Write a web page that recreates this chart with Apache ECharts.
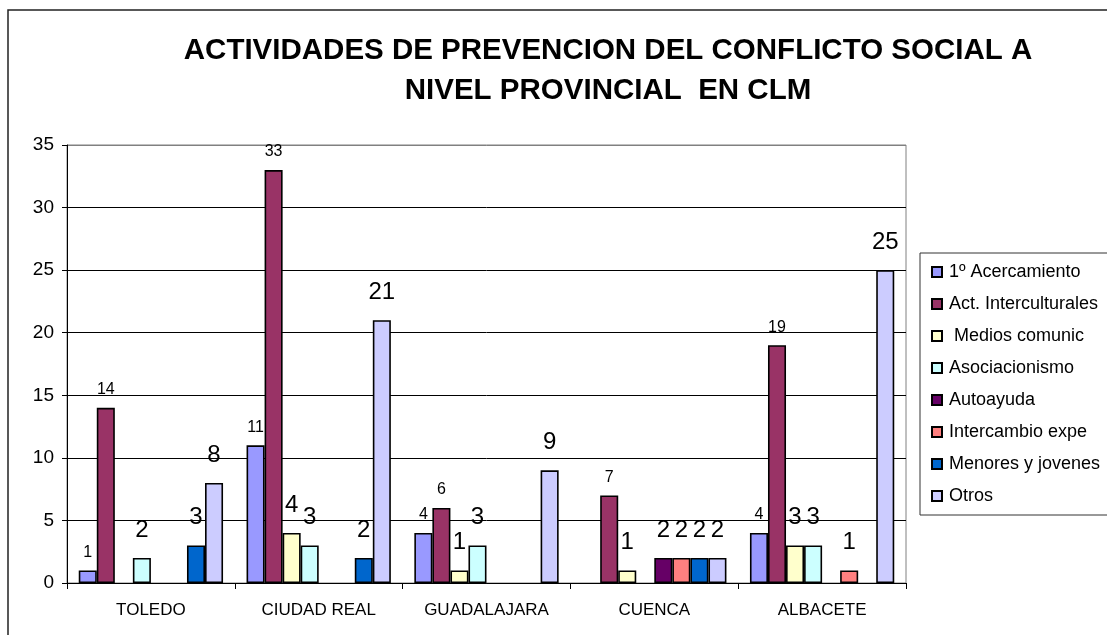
<!DOCTYPE html>
<html>
<head>
<meta charset="utf-8">
<title>Actividades de prevencion</title>
<script src="https://cdn.jsdelivr.net/npm/echarts@6/dist/echarts.min.js"></script>
<style>
  html, body { margin: 0; padding: 0; background: #fff; }
  #chart { width: 1107px; height: 635px; }
</style>
</head>
<body>
<div id="chart"></div>
<script>
// provincias
const provincias = ['TOLEDO', 'CIUDAD REAL', 'GUADALAJARA', 'CUENCA', 'ALBACETE'];

// una lista por actividad (null = sin barra)
const acercamiento   = [1, 11, 4, null, 4];
const interculturales = [14, 33, 6, 7, 19];
const mediosComunic  = [null, 4, 1, 1, 3];
const asociacionismo = [2, 3, 3, null, 3];
const autoayuda      = [null, null, null, 2, null];
const intercambio    = [null, null, null, 2, 1];
const menoresJovenes = [3, 2, null, 2, null];
const otros          = [8, 21, 9, 2, 25];

const yTicks = [0, 5, 10, 15, 20, 25, 30, 35];

const seriesDefs = [
  { name: '1º Acercamiento', data: acercamiento, color: '#9999FF', small: true },
  { name: 'Act. Interculturales', data: interculturales, color: '#993366', small: true },
  { name: ' Medios comunic', data: mediosComunic, color: '#FFFFCC' },
  { name: 'Asociacionismo', data: asociacionismo, color: '#CCFFFF' },
  { name: 'Autoayuda', data: autoayuda, color: '#660066' },
  { name: 'Intercambio expe', data: intercambio, color: '#FF8080' },
  { name: 'Menores y jovenes', data: menoresJovenes, color: '#0066CC' },
  { name: 'Otros', data: otros, color: '#CCCCFF' }
];

const font = '"Liberation Sans", Arial, sans-serif';
const chart = echarts.init(document.getElementById('chart'));

chart.setOption({
  animation: false,
  backgroundColor: '#fff',
  textStyle: { fontFamily: font, color: '#000' },
  title: {
    text: 'ACTIVIDADES DE PREVENCION DEL CONFLICTO SOCIAL A\nNIVEL PROVINCIAL  EN CLM',
    left: 603,
    top: 26,
    textAlign: 'center',
    textStyle: { fontFamily: font, fontSize: 29.5, fontWeight: 'bold', color: '#000', lineHeight: 40 }
  },
  graphic: [{
    type: 'rect',
    shape: { x: 8, y: 10, width: 1200, height: 700 },
    style: { fill: 'none', stroke: '#222', lineWidth: 1.5 },
    silent: true
  }],
  legend: {
    orient: 'vertical',
    left: 920,
    top: 253,
    padding: [10, 40, 10, 11],
    itemWidth: 10,
    itemHeight: 10,
    itemGap: 14,
    icon: 'rect',
    borderColor: '#333',
    borderWidth: 1,
    textStyle: { fontFamily: font, fontSize: 18, lineHeight: 18, color: '#000', padding: [0, 0, 0, 2] },
    data: seriesDefs.map(s => s.name)
  },
  grid: {
    left: 67, right: 201, top: 145, bottom: 52,
    show: true, borderColor: '#808080', borderWidth: 1
  },
  xAxis: {
    type: 'category',
    data: provincias,
    axisLine: { lineStyle: { color: '#000', width: 1 } },
    axisTick: { show: true, length: 6, lineStyle: { color: '#000' } },
    axisLabel: { interval: 0, fontFamily: font, fontSize: 17, color: '#000', margin: 19 }
  },
  yAxis: {
    type: 'value',
    min: yTicks[0],
    max: yTicks[yTicks.length - 1],
    interval: 5,
    axisLine: { show: true, lineStyle: { color: '#000', width: 1 } },
    axisTick: { show: true, length: 5, lineStyle: { color: '#000' } },
    axisLabel: { fontFamily: font, fontSize: 19, color: '#000', margin: 13 },
    splitLine: { lineStyle: { color: ['#000', '#000', '#000', '#000', '#000', '#000', '#000', '#808080'], width: 1 } }
  },
  series: seriesDefs.map(s => ({
    name: s.name,
    type: 'bar',
    data: s.data,
    barGap: 0,
    barCategoryGap: '14%',
    itemStyle: { color: s.color, borderColor: '#000', borderWidth: 1.6 },
    label: {
      show: true,
      position: 'top',
      distance: s.small ? 10 : 16,
      fontFamily: font,
      fontSize: s.small ? 16 : 24,
      color: '#000'
    }
  }))
});
</script>
</body>
</html>
